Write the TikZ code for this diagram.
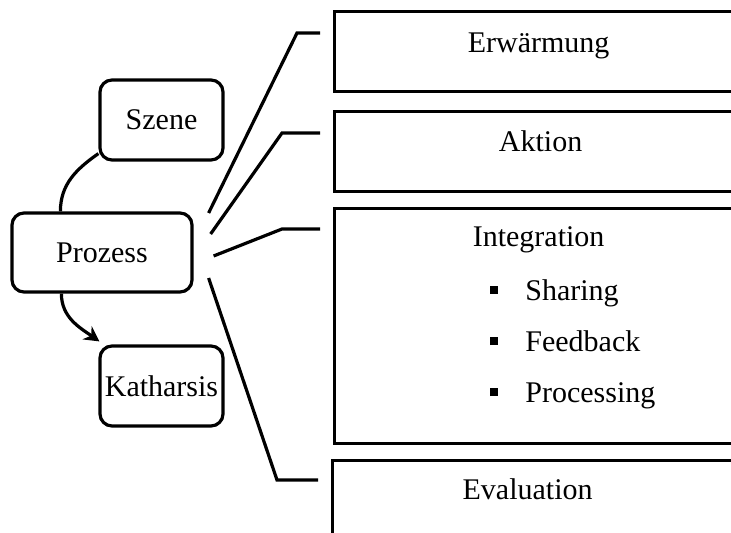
\documentclass[tikz,border=0pt]{standalone}
\usepackage{fontspec}
\setmainfont{Liberation Serif}
\usetikzlibrary{arrows.meta,calc}

\begin{document}
\begin{tikzpicture}[x=0.5pt,y=-0.5pt,
  every node/.style={font=\fontsize{15}{18}\selectfont},
  line/.style={line width=1.6pt},
  topic/.style={draw,line width=1.6pt,rounded corners=6pt,minimum width=61.5pt,minimum height=40pt,inner sep=0pt},
  phase/.style={draw,line width=1.6pt,inner sep=0pt,anchor=north west,minimum width=204pt},
  caption/.style={anchor=base,inner sep=0pt},
  item/.style={anchor=base west,inner sep=0pt}]
\useasboundingbox (0,0) rectangle (731,533);
\clip (0,0) rectangle (731,533);

% left-hand cycle
\node[topic] (szene) at (161.5,120) {Szene};
\node[topic,minimum width=90pt,minimum height=39.5pt] (proz) at (102,252.5) {Prozess};
\node[topic] (kath) at (161.5,386) {Katharsis};

\draw[line] ($(szene.south west)+(0,-8)$) to[out=215,in=90] ($(proz.north west)+(50,0)$);
\draw[line,-{Stealth[length=7.5pt,width=8pt,inset=2.5pt]}]
  ($(proz.south west)+(51,0)$) to[out=-90,in=145] ($(kath.north west)+(1,-3)$);

% phase boxes
\node[phase,minimum height=40pt] (warm) at (333,10) {};
\node[phase,minimum height=40pt] (akt) at (333,110) {};
\node[phase,minimum height=117.5pt] (integ) at (333,207) {};
\node[phase,minimum height=52pt] (eval) at (331,459) {};

\node[caption] (twarm) at ($(warm.north)+(0,43)$) {Erwärmung};
\node[caption] (takt) at ($(akt.north)+(2,42)$) {Aktion};
\node[caption] (tinteg) at ($(integ.north)+(0,40)$) {Integration};
\node[caption] (teval) at ($(eval.north)+(-9,40)$) {Evaluation};

\node[item] (i1) at (490,300) {\raisebox{3pt}{\rule{4pt}{4pt}}\hspace{13.5pt}Sharing};
\node[item] (i2) at (490,351) {\raisebox{3pt}{\rule{4pt}{4pt}}\hspace{13.5pt}Feedback};
\node[item] (i3) at (490,402) {\raisebox{3pt}{\rule{4pt}{4pt}}\hspace{13.5pt}Processing};

% connectors from the process to the phases
\coordinate (s1) at ($(proz.east)+(15,-39.5)$);
\coordinate (s2) at ($(proz.east)+(17,-18.5)$);
\coordinate (s3) at ($(proz.east)+(20,3.5)$);
\coordinate (s4) at ($(proz.east)+(15,25.5)$);
\coordinate (e1) at ($(warm.north west)+(-13,23)$);
\coordinate (e2) at ($(akt.north west)+(-13,23)$);
\coordinate (e3) at ($(integ.north west)+(-13,22)$);
\coordinate (e4) at ($(eval.north west)+(-13,21)$);

\draw[line] (s1) -- ($(e1)+(-23,0)$) -- (e1);
\draw[line] (s2) -- ($(e2)+(-38,0)$) -- (e2);
\draw[line] (s3) -- ($(e3)+(-38,0)$) -- (e3);
\draw[line] (s4) -- ($(e4)+(-41,0)$) -- (e4);
\end{tikzpicture}
\end{document}
